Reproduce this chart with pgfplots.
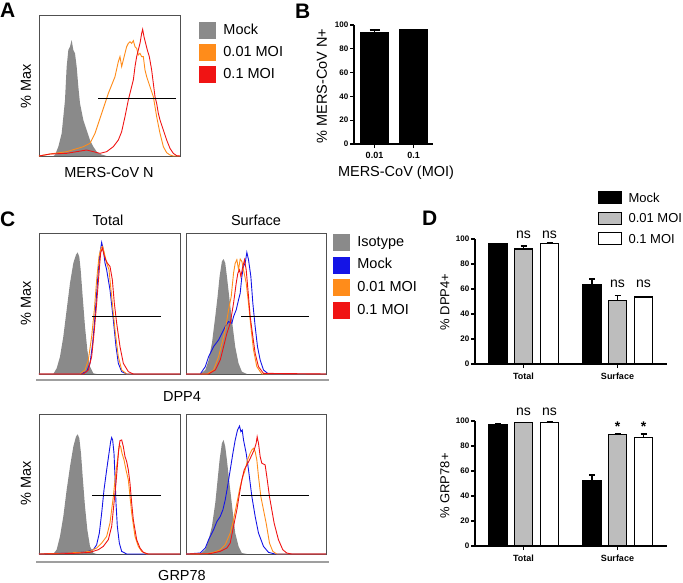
\documentclass[border=0pt]{standalone}
\usepackage{pgfplots}
\pgfplotsset{compat=1.18}
\usepackage{fontspec}
\setmainfont{Liberation Sans}
\definecolor{hgray}{HTML}{8A8A8A}
\definecolor{horange}{HTML}{FF8C1A}
\definecolor{hred}{HTML}{F01414}
\definecolor{hblue}{HTML}{1414E6}
\definecolor{bgray}{HTML}{BDBDBD}
\definecolor{boxgray}{HTML}{505050}
\newcommand\fs[1]{\fontsize{#1}{#1}\selectfont}
\pgfplotsset{
 hist/.style={scale only axis, xtick=\empty, ytick=\empty, y dir=reverse,
   axis line style={boxgray, line width=0.8pt}, clip=true},
 hl/.style={black, line width=0.8pt},
 cur/.style={line width=0.9pt, forget plot},
 sqleg/.style={legend style={draw=none, fill=none, inner sep=0pt, outer sep=0pt,
   font=\fs{14.5}, nodes={inner sep=0pt, anchor=base west},
   /tikz/every odd column/.append style={column sep=8pt}}, legend cell align=left},
 barax/.style={scale only axis, axis x line=bottom, axis y line=left,
   every non boxed x axis/.append style={x axis line style=-},
   every non boxed y axis/.append style={y axis line style=-},
   axis line style={-, line width=1.3pt}, x axis line style={-}, y axis line style={-},
   tick style={black, line width=1.2pt}, major tick length=4pt, tick align=outside,
   ymin=0, ymax=100, ytick={0,20,...,100}, /pgf/number format/assume math mode=true,
   yticklabel style={font=\bfseries\fs{8}, inner sep=1.5pt},
   xticklabel style={font=\bfseries\fs{9}, yshift=-1pt}, clip=false},
 bb/.style={ybar, bar shift=0pt, draw=black, line width=1.2pt, forget plot,
   error bars/y dir=plus, error bars/y explicit,
   error bars/error bar style={line width=1.2pt, black},
   error bars/error mark options={rotate=90, line width=1.2pt, black, mark size=#1}},
}
\begin{document}
\begin{tikzpicture}[x=1pt,y=1pt]
\useasboundingbox (0pt,0pt) rectangle (683pt,-582pt);

% ---------------- Panel A ----------------
\begin{axis}[hist, sqleg, at={(39pt,-156pt)}, anchor=south west, width=141pt, height=141pt,
  xmin=117, xmax=540, ymin=45, ymax=468,
  legend style={at={(1.135,0.95)}, anchor=north west, row sep=5.5pt}]
\addlegendimage{legend image code/.code={\fill[hgray] (0pt,-4pt) rectangle (16pt,12pt);}}
\addlegendentry{Mock}
\addlegendimage{legend image code/.code={\fill[horange] (0pt,-4pt) rectangle (16pt,12pt);}}
\addlegendentry{0.01 MOI}
\addlegendimage{legend image code/.code={\fill[hred] (0pt,-4pt) rectangle (16pt,12pt);}}
\addlegendentry{0.1 MOI}
\addplot[fill=hgray, draw=none, forget plot] coordinates {(117,468)(160,468)(165,465)(175,440)(185,400)(195,300)(200,200)(205,150)(210,140)(215,120)(220,150)(225,160)(230,200)(235,260)(240,310)(250,360)(260,390)(270,420)(280,440)(290,455)(300,462)(320,468)};
\addplot[cur, horange] coordinates {(117,468)(150,462)(200,455)(250,440)(270,430)(285,400)(295,370)(305,340)(315,310)(325,280)(335,255)(345,230)(355,185)(360,170)(365,200)(370,180)(375,160)(380,140)(385,130)(390,125)(395,130)(400,122)(405,140)(410,145)(415,165)(420,160)(425,170)(430,170)(435,210)(440,230)(450,260)(460,290)(465,320)(470,350)(480,400)(490,440)(500,458)(510,465)(520,468)(540,468)};
\addplot[cur, hred] coordinates {(117,468)(150,462)(200,460)(230,455)(260,450)(280,455)(300,460)(320,455)(340,440)(355,420)(365,395)(375,350)(385,300)(395,260)(400,240)(405,200)(410,170)(415,150)(420,130)(425,100)(428,88)(432,110)(437,130)(442,150)(448,170)(455,210)(460,250)(465,290)(470,310)(475,340)(480,360)(490,390)(500,420)(510,445)(520,460)(530,467)(540,468)};
\addplot[hl, forget plot] coordinates {(295,295)(527,295)};
\end{axis}
\node[font=\bfseries\fs{21}, anchor=base west, inner sep=0pt] at (0pt,-17pt) {A};
\node[font=\fs{14.5}, rotate=90] at (26pt,-86pt) {\% Max};
\node[font=\fs{14.5}, anchor=base] at (109pt,-177pt) {MERS-CoV N};

% ---------------- Panel B ----------------
\begin{axis}[barax, at={(354pt,-144pt)}, anchor=south west, width=79pt, height=119pt,
  xmin=354, xmax=433, xtick={374.5,413.5}, xticklabels={0.01,0.1}]
\addplot[bb=5pt, fill=black, bar width=27pt] coordinates {(374.5,93.5) +- (0,2.3) (413.5,95.8) +- (0,0.3)};
\end{axis}
\node[font=\bfseries\fs{21}, anchor=base west, inner sep=0pt] at (295pt,-18pt) {B};
\node[font=\fs{14.5}, rotate=90] at (322pt,-86pt) {\% MERS-CoV N+};
\node[font=\fs{14.5}, anchor=base] at (396pt,-176pt) {MERS-CoV (MOI)};

% ---------------- Panel C ----------------
\node[font=\bfseries\fs{21}, anchor=base west, inner sep=0pt] at (0pt,-226pt) {C};
\node[font=\fs{14.5}, anchor=base] at (108pt,-225pt) {Total};
\node[font=\fs{14.5}, anchor=base] at (256pt,-225pt) {Surface};
\node[font=\fs{14.5}, rotate=90] at (26pt,-303pt) {\% Max};
\node[font=\fs{14.5}, rotate=90] at (26pt,-483pt) {\% Max};
\node[font=\fs{14.5}, anchor=base] at (182pt,-401pt) {DPP4};
\node[font=\fs{14.5}, anchor=base] at (182pt,-580pt) {GRP78};
\draw[gray!75, line width=2pt] (36pt,-380pt) -- (329pt,-380pt);
\draw[gray!75, line width=2pt] (36pt,-562pt) -- (329pt,-562pt);

% C row 1, Total
\begin{axis}[hist, at={(39pt,-374pt)}, anchor=south west, width=141pt, height=141pt,
  xmin=117, xmax=540, ymin=190, ymax=612]
\addplot[fill=hgray, draw=none] coordinates {(117,612)(160,612)(170,595)(180,560)(190,500)(200,420)(210,340)(220,280)(228,255)(233,248)(238,262)(242,300)(248,380)(255,470)(262,540)(270,590)(280,610)(290,612)};
\addplot[cur, hblue] coordinates {(117,612)(240,612)(260,605)(270,580)(278,520)(285,440)(290,370)(295,300)(300,250)(305,218)(310,240)(315,280)(320,300)(330,360)(340,450)(348,530)(355,580)(365,605)(380,612)(540,612)};
\addplot[cur, horange] coordinates {(117,612)(240,612)(255,600)(265,570)(275,500)(283,420)(290,330)(297,260)(303,235)(308,230)(313,250)(320,280)(327,300)(335,380)(345,480)(355,560)(365,600)(380,612)(540,612)};
\addplot[cur, hred] coordinates {(117,612)(250,612)(265,600)(275,560)(283,480)(290,400)(297,310)(302,250)(307,235)(312,255)(317,270)(322,280)(326,285)(330,290)(337,330)(343,400)(350,460)(360,530)(370,580)(385,605)(400,612)(540,612)};
\addplot[hl] coordinates {(277,440)(484,440)};
\end{axis}

% C row 1, Surface
\begin{axis}[hist, sqleg, at={(186pt,-374pt)}, anchor=south west, width=140pt, height=141pt,
  xmin=557, xmax=978, ymin=190, ymax=612,
  legend style={at={(1.05,0.993)}, anchor=north west, row sep=6.3pt}]
\addlegendimage{legend image code/.code={\fill[hgray] (0pt,-4pt) rectangle (16pt,12pt);}}
\addlegendentry{Isotype}
\addlegendimage{legend image code/.code={\fill[hblue] (0pt,-4pt) rectangle (16pt,12pt);}}
\addlegendentry{Mock}
\addlegendimage{legend image code/.code={\fill[horange] (0pt,-4pt) rectangle (16pt,12pt);}}
\addlegendentry{0.01 MOI}
\addlegendimage{legend image code/.code={\fill[hred] (0pt,-4pt) rectangle (16pt,12pt);}}
\addlegendentry{0.1 MOI}
\addplot[fill=hgray, draw=none, forget plot] coordinates {(557,612)(600,612)(615,600)(625,570)(635,520)(645,440)(652,380)(658,320)(665,275)(670,268)(675,280)(680,320)(688,390)(695,450)(705,530)(715,580)(725,605)(740,612)};
\addplot[cur, hblue] coordinates {(557,612)(600,612)(615,590)(625,560)(640,530)(655,510)(665,490)(675,470)(685,455)(695,460)(700,440)(708,420)(715,390)(720,370)(725,320)(730,290)(735,280)(740,248)(745,270)(752,320)(758,400)(765,470)(772,530)(780,570)(790,600)(805,612)(978,612)};
\addplot[cur, horange] coordinates {(557,612)(620,612)(640,600)(655,560)(665,520)(675,480)(685,420)(693,380)(700,310)(705,280)(710,270)(715,300)(720,268)(725,275)(730,300)(738,340)(745,400)(752,470)(760,540)(770,590)(785,612)(978,612)};
\addplot[cur, hred] coordinates {(557,612)(625,612)(645,600)(660,570)(670,530)(680,490)(690,460)(700,400)(708,340)(713,310)(718,300)(722,320)(728,290)(733,270)(738,300)(745,380)(750,440)(758,500)(765,550)(775,590)(790,610)(978,612)};
\addplot[hl, forget plot] coordinates {(723,440)(928,440)};
\end{axis}

% C row 2, Total
\begin{axis}[hist, at={(39pt,-554pt)}, anchor=south west, width=141pt, height=140pt,
  xmin=117, xmax=540, ymin=132, ymax=553]
\addplot[fill=hgray, draw=none] coordinates {(117,553)(160,553)(170,540)(180,500)(190,440)(200,360)(210,290)(220,230)(228,200)(233,193)(238,205)(243,250)(248,320)(255,410)(262,480)(270,530)(280,550)(290,553)};
\addplot[cur, hblue] coordinates {(117,553)(200,550)(240,548)(265,545)(280,540)(290,525)(298,490)(305,430)(312,360)(320,300)(327,250)(332,215)(335,203)(338,210)(342,250)(345,320)(348,400)(352,470)(358,520)(365,545)(380,553)(540,553)};
\addplot[cur, horange] coordinates {(117,553)(200,550)(240,548)(270,545)(290,535)(305,520)(320,500)(330,460)(340,380)(345,330)(350,290)(355,250)(358,225)(362,230)(366,250)(372,270)(378,300)(385,330)(390,380)(395,430)(405,500)(415,530)(425,545)(440,553)(540,553)};
\addplot[cur, hred] coordinates {(117,553)(200,552)(240,550)(270,548)(295,540)(310,530)(325,510)(335,470)(342,400)(348,340)(352,290)(356,240)(360,212)(365,210)(370,230)(375,260)(380,275)(385,300)(390,340)(395,400)(400,450)(410,510)(420,535)(430,548)(445,553)(540,553)};
\addplot[hl] coordinates {(277,378)(484,378)};
\end{axis}

% C row 2, Surface
\begin{axis}[hist, at={(186pt,-554pt)}, anchor=south west, width=140pt, height=140pt,
  xmin=557, xmax=978, ymin=132, ymax=553]
\addplot[fill=hgray, draw=none] coordinates {(557,553)(600,553)(615,540)(625,510)(635,470)(645,400)(652,330)(658,270)(665,220)(670,210)(675,230)(680,270)(690,360)(698,430)(705,490)(715,530)(725,550)(740,553)};
\addplot[cur, hblue] coordinates {(557,553)(600,550)(615,535)(625,510)(640,480)(650,455)(660,440)(668,420)(675,390)(682,350)(690,300)(698,250)(705,210)(712,180)(718,168)(722,185)(726,180)(730,210)(738,250)(745,300)(755,380)(765,440)(775,490)(790,530)(805,548)(825,553)(978,553)};
\addplot[cur, horange] coordinates {(557,553)(620,552)(640,548)(660,540)(675,525)(690,490)(700,450)(710,400)(720,350)(728,320)(735,300)(742,270)(750,250)(755,240)(760,235)(765,245)(770,270)(775,320)(782,380)(790,420)(798,460)(808,520)(818,545)(830,553)(978,553)};
\addplot[cur, hred] coordinates {(557,553)(630,552)(660,545)(680,535)(690,520)(700,470)(710,420)(718,370)(725,330)(732,300)(740,285)(748,270)(755,255)(762,240)(768,220)(771,200)(775,220)(780,260)(785,280)(795,285)(800,320)(808,380)(815,420)(822,460)(835,510)(848,540)(860,550)(875,553)(978,553)};
\addplot[hl] coordinates {(723,378)(928,378)};
\end{axis}

% ---------------- Panel D ----------------
\node[font=\bfseries\fs{21}, anchor=base west, inner sep=0pt] at (422pt,-225pt) {D};
\node[font=\fs{13}, rotate=90] at (445pt,-302pt) {\% DPP4+};
\node[font=\fs{13}, rotate=90] at (445pt,-486pt) {\% GRP78+};

\begin{axis}[barax, at={(475pt,-364pt)}, anchor=south west, width=192pt, height=125pt,
  xmin=475, xmax=667, xtick={523.5,617.5}, xticklabels={Total,Surface},
  legend style={at={(0.641,1.384)}, anchor=north west, draw=none, fill=none, inner sep=0pt,
   outer sep=0pt, row sep=7.5pt, font=\fs{13}, nodes={inner sep=0pt, anchor=base west},
   /tikz/every odd column/.append style={column sep=6.5pt}}, legend cell align=left]
\addlegendimage{legend image code/.code={\draw[fill=black, line width=1pt] (0pt,-1.5pt) rectangle (23pt,10.5pt);}}
\addlegendentry{Mock}
\addlegendimage{legend image code/.code={\draw[fill=bgray, line width=1pt] (0pt,-1.5pt) rectangle (23pt,10.5pt);}}
\addlegendentry{0.01 MOI}
\addlegendimage{legend image code/.code={\draw[fill=white, line width=1pt] (0pt,-1.5pt) rectangle (23pt,10.5pt);}}
\addlegendentry{0.1 MOI}
\addplot[bb=3pt, fill=black, bar width=18pt] coordinates {(498,96) +- (0,0.5) (592,63.7) +- (0,4.3)};
\addplot[bb=3pt, fill=bgray, bar width=18pt] coordinates {(523.5,92) +- (0,2.4) (617.5,51) +- (0,4)};
\addplot[bb=3pt, fill=white, bar width=18pt] coordinates {(549.5,96.5) +- (0,0.5) (643.5,53.6) +- (0,0.4)};
\node[font=\fs{14}, anchor=base] at (axis cs:523.5,100.8) {ns};
\node[font=\fs{14}, anchor=base] at (axis cs:549.5,100.8) {ns};
\node[font=\fs{14}, anchor=base] at (axis cs:617.5,61.6) {ns};
\node[font=\fs{14}, anchor=base] at (axis cs:643.5,61.6) {ns};
\end{axis}

\begin{axis}[barax, at={(475pt,-546pt)}, anchor=south west, width=192pt, height=125pt,
  xmin=475, xmax=667, xtick={523.5,617.5}, xticklabels={Total,Surface}]
\addplot[bb=3pt, fill=black, bar width=18pt] coordinates {(498,97.4) +- (0,0.4) (592,52) +- (0,4.8)};
\addplot[bb=3pt, fill=bgray, bar width=18pt] coordinates {(523.5,98.6) +- (0,0.3) (617.5,89.1) +- (0,0.5)};
\addplot[bb=3pt, fill=white, bar width=18pt] coordinates {(549.5,99) +- (0,0.4) (643.5,86.7) +- (0,2.9)};
\node[font=\fs{14}, anchor=base] at (axis cs:523.5,104.8) {ns};
\node[font=\fs{14}, anchor=base] at (axis cs:549.5,104.8) {ns};
\node[font=\bfseries\fs{14}, anchor=base] at (axis cs:617.5,92) {*};
\node[font=\bfseries\fs{14}, anchor=base] at (axis cs:643.5,92) {*};
\end{axis}
\end{tikzpicture}
\end{document}
